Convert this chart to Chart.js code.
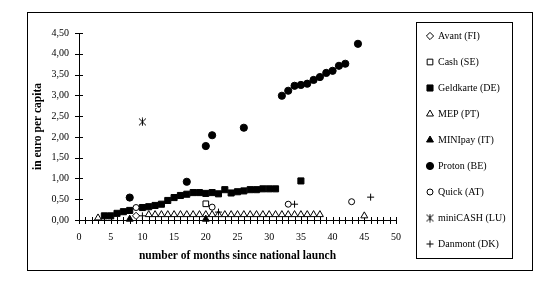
<!DOCTYPE html>
<html><head><meta charset="utf-8">
<script src="https://cdn.jsdelivr.net/npm/chart.js@4/dist/chart.umd.min.js"></script>
<style>html,body{margin:0;padding:0;background:#fff}canvas{display:block}</style>
</head><body>
<canvas id="c" width="544" height="282"></canvas>
<script>
// ---- data ----
const seriesNames = ['Avant (FI)','Cash (SE)','Geldkarte (DE)','MEP (PT)','MINIpay (IT)','Proton (BE)','Quick (AT)','miniCASH (LU)','Danmont (DK)'];

const avantMonths = [9];
const avantValues = [0.10];

const cashMonths = [20];
const cashValues = [0.39];

const geldkarteMonths = [4,5,6,7,8,10,11,12,13,14,15,16,17,18,19,20,21,22,23,24,25,26,27,28,29,30,31,35];
const geldkarteValues = [0.10,0.10,0.16,0.20,0.23,0.30,0.32,0.35,0.38,0.47,0.54,0.59,0.62,0.66,0.66,0.64,0.66,0.63,0.73,0.65,0.68,0.70,0.73,0.73,0.75,0.75,0.75,0.94];

const mepMonths = [3,11,12,13,14,15,16,17,18,19,20,21,22,23,24,25,26,27,28,29,30,31,32,33,34,35,36,37,38,45];
const mepValues = [0.05,0.13,0.13,0.13,0.13,0.13,0.13,0.13,0.13,0.13,0.13,0.13,0.13,0.13,0.13,0.13,0.13,0.13,0.13,0.13,0.13,0.13,0.13,0.13,0.13,0.13,0.13,0.13,0.13,0.10];

const minipayMonths = [8,20];
const minipayValues = [0.02,0.02];

const protonMonths = [8,17,20,21,26,32,33,34,35,36,37,38,39,40,41,42,44];
const protonValues = [0.54,0.92,1.78,2.04,2.22,2.99,3.11,3.23,3.25,3.28,3.37,3.44,3.54,3.59,3.71,3.76,4.24];

const quickMonths = [9,21,33,43];
const quickValues = [0.30,0.31,0.38,0.44];

const minicashMonths = [10];
const minicashValues = [2.36];

const danmontMonths = [10,22,34,46];
const danmontValues = [0.10,0.19,0.38,0.55];

const xTickLabels = ['0','5','10','15','20','25','30','35','40','45','50'];
const yTickLabels = ['0,00','0,50','1,00','1,50','2,00','2,50','3,00','3,50','4,00','4,50'];

const xTitle = 'number of months since national launch';
const yTitle = 'in euro per capita';

// ---- helpers ----
function pts(xs, ys){ return xs.map((x,i)=>({x:x, y:ys[i]})); }

// asterisk marker for miniCASH
const star = document.createElement('canvas');
star.width = 9; star.height = 9;
(function(){
  const g = star.getContext('2d');
  g.strokeStyle = '#000'; g.lineWidth = 1;
  g.beginPath();
  g.moveTo(1,1); g.lineTo(8,8);
  g.moveTo(8,1); g.lineTo(1,8);
  g.moveTo(4.5,0.5); g.lineTo(4.5,8.5);
  g.stroke();
})();

const styles = [
  {pointStyle:'rectRot', bg:'#fff', r:3.6},
  {pointStyle:'rect', bg:'#fff', r:4},
  {pointStyle:'rect', bg:'#000', r:4.3},
  {pointStyle:'triangle', bg:'#fff', r:4},
  {pointStyle:'triangle', bg:'#000', r:4},
  {pointStyle:'circle', bg:'#000', r:3.6},
  {pointStyle:'circle', bg:'#fff', r:3},
  {pointStyle:star, bg:'#000', r:4.5},
  {pointStyle:'cross', bg:'#000', r:3.5}
];

const seriesData = [
  pts(avantMonths, avantValues),
  pts(cashMonths, cashValues),
  pts(geldkarteMonths, geldkarteValues),
  pts(mepMonths, mepValues),
  pts(minipayMonths, minipayValues),
  pts(protonMonths, protonValues),
  pts(quickMonths, quickValues),
  pts(minicashMonths, minicashValues),
  pts(danmontMonths, danmontValues)
];

const datasets = seriesNames.map((name,i)=>({
  label: name,
  data: seriesData[i],
  pointStyle: styles[i].pointStyle,
  pointRadius: styles[i].r,
  pointHoverRadius: styles[i].r,
  pointBackgroundColor: styles[i].bg,
  pointBorderColor: '#000',
  pointBorderWidth: 1,
  showLine: false,
  clip: false,
  order: seriesNames.length - i
}));

const SERIF = '"Liberation Serif", "Times New Roman", serif';

const decor = {
  id: 'decor',
  beforeDatasetsDraw(chart){
    const ctx = chart.ctx, xs = chart.scales.x, ys = chart.scales.y;
    const y0 = Math.round(ys.getPixelForValue(0));
    const x0 = Math.round(xs.getPixelForValue(0));
    ctx.save();
    ctx.strokeStyle = '#000'; ctx.lineWidth = 1;
    ctx.beginPath();
    xs.ticks.forEach(t=>{
      const px = Math.round(xs.getPixelForValue(t.value)) + 0.5;
      ctx.moveTo(px, y0 - 3); ctx.lineTo(px, y0 + 4);
    });
    ys.ticks.forEach(t=>{
      const py = Math.round(ys.getPixelForValue(t.value)) + 0.5;
      ctx.moveTo(x0 - 4, py); ctx.lineTo(x0 + 4, py);
    });
    ctx.stroke();
    ctx.restore();
  },
  afterDraw(chart){
    const ctx = chart.ctx;
    ctx.save();
    ctx.strokeStyle = '#000'; ctx.lineWidth = 1;
    // outer frame
    ctx.strokeRect(27.5, 12.5, 505, 258);
    // legend box
    ctx.strokeRect(416.5, 22.5, 96, 236);
    // legend items
    ctx.font = '10px ' + SERIF;
    ctx.textBaseline = 'middle';
    ctx.textAlign = 'left';
    chart.data.datasets.forEach((ds,i)=>{
      const y = 36 + 26*i;
      ctx.fillStyle = ds.pointBackgroundColor;
      ctx.strokeStyle = '#000';
      ctx.lineWidth = 1;
      Chart.helpers.drawPoint(ctx, {pointStyle: ds.pointStyle, radius: ds.pointRadius, borderWidth: 1, rotation: 0}, 430, y);
      ctx.fillStyle = '#000';
      ctx.fillText(ds.label, 438, y + 0.5);
    });
    ctx.restore();
  }
};

new Chart(document.getElementById('c'), {
  type: 'scatter',
  data: { datasets },
  plugins: [decor],
  options: {
    responsive: false,
    animation: false,
    devicePixelRatio: 1,
    layout: { padding: { left: 0, top: 33, right: 148, bottom: 0 } },
    plugins: { legend: { display: false }, tooltip: { enabled: false } },
    scales: {
      x: {
        type: 'linear', min: 0, max: 50,
        afterFit(s){ s.height = 62; },
        grid: { display: false, drawTicks: false },
        border: { display: true, color: '#000', width: 1 },
        ticks: {
          stepSize: 1, autoSkip: false, maxRotation: 0, padding: 11,
          color: '#000', font: { family: SERIF, size: 10 },
          callback: (v)=> (v % 5 === 0 ? xTickLabels[v/5] : '')
        },
        title: { display: true, text: xTitle, color: '#000',
          font: { family: SERIF, size: 11.5, weight: 'bold' },
          padding: { top: 0, bottom: 19 } }
      },
      y: {
        type: 'linear', min: 0, max: 4.5,
        afterFit(s){ s.width = 79; },
        grid: { display: false, drawTicks: false },
        border: { display: true, color: '#000', width: 1 },
        ticks: {
          stepSize: 0.5, padding: 10,
          color: '#000', font: { family: SERIF, size: 10 },
          callback: (v)=> yTickLabels[Math.round(v/0.5)]
        },
        title: { display: true, text: yTitle, color: '#000',
          font: { family: SERIF, size: 11.5, weight: 'bold' },
          padding: { top: 31, bottom: 0 } }
      }
    }
  }
});
</script>
</body></html>
